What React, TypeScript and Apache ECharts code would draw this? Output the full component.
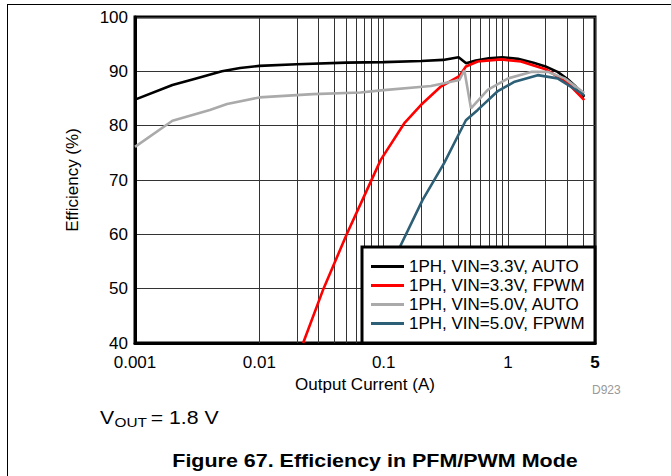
import React, { useEffect, useRef } from "react";
import * as echarts from "echarts";

// Output current (A) vs efficiency (%)
const auto33: [number, number][] = [
  [0.001, 84.8], [0.002, 87.5], [0.003, 88.6], [0.005, 90.0], [0.007, 90.6],
  [0.01, 91.0], [0.02, 91.3], [0.05, 91.6], [0.1, 91.7], [0.2, 91.9],
  [0.3, 92.1], [0.4, 92.6], [0.46, 91.5], [0.55, 92.0], [0.7, 92.4],
  [0.9, 92.6], [1.2, 92.3], [1.6, 91.6], [2.0, 90.9], [2.5, 89.9],
  [3.0, 88.6], [3.5, 87.2], [4.1, 85.3],
];
const fpwm33: [number, number][] = [
  [0.0225, 40], [0.0328, 50], [0.0504, 60], [0.0673, 66.3], [0.0946, 73.7],
  [0.146, 80.4], [0.199, 83.8], [0.288, 87.2], [0.405, 89.1], [0.458, 90.9],
  [0.57, 91.8], [0.88, 92.2], [1.27, 91.8], [2.0, 90.4], [3.0, 87.9], [4.1, 84.7],
];
const auto50: [number, number][] = [
  [0.001, 76.1], [0.002, 80.9], [0.004, 82.9], [0.0055, 84.0], [0.01, 85.2],
  [0.027, 85.8], [0.065, 86.1], [0.095, 86.5], [0.24, 87.3], [0.405, 88.4],
  [0.445, 90.2], [0.503, 83.2], [0.686, 86.6], [1.0, 88.7], [1.53, 89.9],
  [2.09, 89.9], [2.85, 88.7], [4.1, 86.0],
];
const fpwm50: [number, number][] = [
  [0.1, 50], [0.137, 58.0], [0.205, 66.3], [0.306, 73.1],
  [0.405, 78.6], [0.458, 81.0], [0.57, 82.9], [0.82, 86.3], [1.13, 88.1],
  [1.73, 89.3], [2.5, 88.7], [4.1, 85.6],
];

const seriesNames = [
  "1PH, VIN=3.3V, AUTO",
  "1PH, VIN=3.3V, FPWM",
  "1PH, VIN=5.0V, AUTO",
  "1PH, VIN=5.0V, FPWM",
];
const seriesColors = ["#000000", "#ff0000", "#aaaaaa", "#2d5f76"];
const minorGridX = [
  0.002, 0.003, 0.004, 0.005, 0.006, 0.007, 0.008, 0.009,
  0.02, 0.03, 0.04, 0.05, 0.06, 0.07, 0.08, 0.09,
  0.2, 0.3, 0.4, 0.5, 0.6, 0.7, 0.8, 0.9,
  2, 3, 4,
];
const xMin = 0.001;
const xMax = 5;
const yMin = 40;
const yMax = 100;
const yStep = 10;

const FONT = "'Liberation Sans', Arial, Helvetica, sans-serif";

export default function App() {
  const ref = useRef<HTMLDivElement>(null);
  useEffect(() => {
    if (!ref.current) return;
    const chart = echarts.init(ref.current, undefined, { renderer: "svg" });
    const datasets = [auto33, fpwm33, auto50, fpwm50];
    chart.setOption({
      animation: false,
      textStyle: { fontFamily: FONT },
      grid: {
        left: 135, right: 76, top: 17, bottom: 133,
        show: true, borderColor: "#000", borderWidth: 3, backgroundColor: "transparent",
      },
      xAxis: {
        type: "log", logBase: 10, min: xMin, max: xMax,
        name: "Output Current (A)", nameLocation: "middle", nameGap: 30,
        nameTextStyle: { fontSize: 17, color: "#000", fontFamily: FONT },
        axisLine: { show: true, lineStyle: { color: "#000", width: 3 } },
        axisTick: { show: false },
        splitLine: { show: true, lineStyle: { color: "#333", width: 1 } },
        axisLabel: {
          fontSize: 17, color: "#000", margin: 11, fontFamily: FONT,
          formatter: (v: number) => {
            const r = Number(v.toPrecision(6));
            if (Math.abs(r - 5) < 1e-6) return "{b|5}";
            return String(r);
          },
          rich: { b: { fontWeight: "bold", fontSize: 17, color: "#000", fontFamily: FONT } },
        },
      },
      yAxis: {
        type: "value", min: yMin, max: yMax, interval: yStep,
        name: "Efficiency (%)", nameLocation: "middle", nameGap: 54, nameRotate: 90,
        nameTextStyle: { fontSize: 17, color: "#000", fontFamily: FONT },
        axisLine: { show: true, lineStyle: { color: "#000", width: 3 } },
        axisTick: { show: false },
        splitLine: { show: true, lineStyle: { color: "#333", width: 1 } },
        axisLabel: { fontSize: 17, color: "#000", margin: 7, fontFamily: FONT },
      },
      legend: {
        data: seriesNames.map((n) => ({ name: n, icon: "rect" })),
        orient: "vertical",
        left: 362, top: 247,
        padding: [10, 0, 10, 9],
        itemWidth: 33, itemHeight: 3, itemGap: 0,
        textStyle: { fontSize: 17, color: "#000", fontFamily: FONT, lineHeight: 19 },
        z: 10,
      },
      graphic: [
        {
          type: "rect", z: 6,
          shape: { x: 362, y: 247, width: 233, height: 96 },
          style: { fill: "#fff", stroke: "#000", lineWidth: 3 },
        },
        { type: "line", shape: { x1: 7.5, y1: 4.5, x2: 671, y2: 4.5 }, style: { stroke: "#000", lineWidth: 1 } },
        { type: "line", shape: { x1: 7.5, y1: 4, x2: 7.5, y2: 476 }, style: { stroke: "#000", lineWidth: 1 } },
        {
          type: "text", x: 592, y: 390,
          style: { text: "D923", fontSize: 12, fill: "#999", fontFamily: FONT, align: "left", verticalAlign: "middle" },
        },
        {
          type: "group", x: 100, y: 0, scaleX: 1.18,
          children: [
            { type: "text", x: 0, y: 418, style: { text: "V", fontSize: 18, fill: "#000", fontFamily: FONT, align: "left", verticalAlign: "middle" } },
            { type: "text", x: 12.3, y: 422, style: { text: "OUT", fontSize: 13, fill: "#000", fontFamily: FONT, align: "left", verticalAlign: "middle" } },
            { type: "text", x: 43, y: 418, style: { text: "= 1.8 V", fontSize: 18, fill: "#000", fontFamily: FONT, align: "left", verticalAlign: "middle" } },
          ],
        },
        {
          type: "text", x: 375, y: 460, scaleX: 1.13,
          style: {
            text: "Figure 67. Efficiency in PFM/PWM Mode", fontSize: 19, fontWeight: "bold",
            fill: "#000", fontFamily: FONT, align: "center", verticalAlign: "middle",
          },
        },
      ],
      series: [
        {
          name: "grid-minor", type: "line", data: [], z: 1, silent: true,
          markLine: {
            silent: true, z: 1, symbol: ["none", "none"], label: { show: false },
            lineStyle: { color: "#333", width: 1, type: "solid" },
            emphasis: { disabled: true },
            data: minorGridX.map((v) => ({ xAxis: v })),
          },
        },
        ...datasets.map((d, i) => ({
          name: seriesNames[i], type: "line", data: d, symbol: "none", z: 3,
          lineStyle: { color: seriesColors[i], width: 2.6 },
          itemStyle: { color: seriesColors[i] },
          emphasis: { disabled: true },
        })),
      ],
    });
    return () => chart.dispose();
  }, []);
  return <div ref={ref} style={{ position: "absolute", left: 0, top: 0, width: 671, height: 476 }} />;
}
